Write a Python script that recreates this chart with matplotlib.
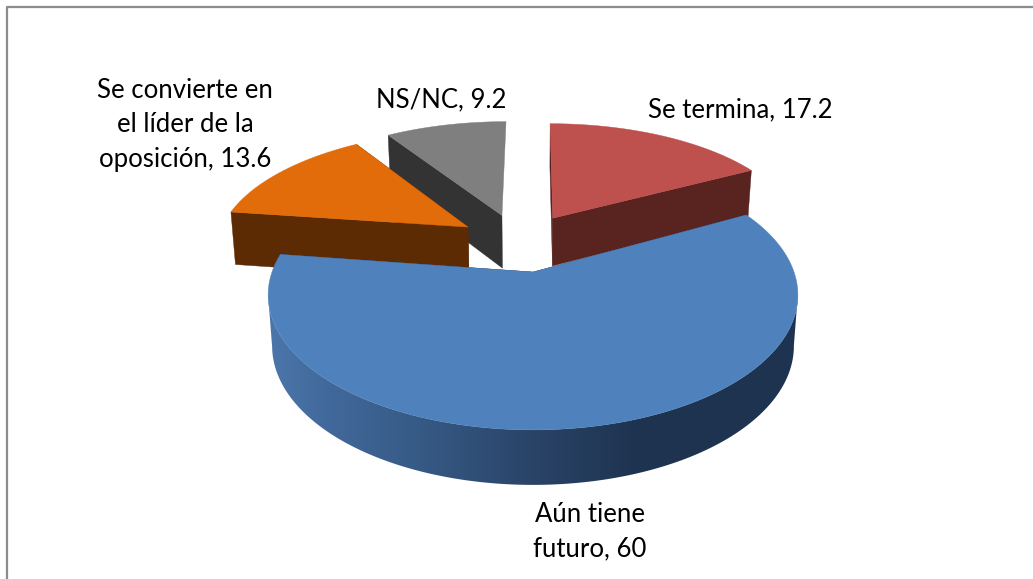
import numpy as np
import matplotlib
matplotlib.use('Agg')
import matplotlib.pyplot as plt
from matplotlib.patches import Polygon
from matplotlib.colors import LinearSegmentedColormap

# data, clockwise from 12 o'clock
categories = ['Se termina', 'Aún tiene\nfuturo', 'Se convierte en\nel líder de la\noposición', 'NS/NC']
values = [17.2, 60, 13.6, 9.2]
top_colors = ['#BE504D', '#4F81BD', '#E26B0A', '#7F7F7F']
side_colors = ['#592320', '#1E3350', '#5C2A03', '#333333']
label_xy = [(740, 110), (590, 532), (185, 125), (441, 100)]

# projection of the pie plane, fitted by eye (pixels)
cx, cy = 533.0, 272.0
A, B, k = 261.0, 131.0, 0.17
explode = 0.24
center = (-0.042, 0.236)
nudge_x = [0.0, 0.0, -0.02, -0.018]
squash_y = [0.96, 1.0, 0.96, 0.96]
depth = [50, 50, 55, 55]

def project(X, Y, d=None):
    s = 1.0 / (1.0 + k * Y)
    px = A * X * s
    py = -B * Y * s
    if d is not None:
        px = px * 0.985
        py = py + d - 5 * Y
    return cx + px, cy + py

# blue side shading follows screen x
grad_x = np.array([268, 330, 420, 530, 640, 798])
grad_c = ['#4C76AA', '#41689A', '#365A85', '#2A4468', '#1E3350', '#1E3350']
grad_cmap = LinearSegmentedColormap.from_list('side', list(zip((grad_x - 268) / 530.0, grad_c)))

fig = plt.figure(figsize=(10.33, 5.79), dpi=100)
ax = fig.add_axes([0, 0, 1, 1])

# chart frame
ax.plot([7, 7, 1033], [579, 7, 7], color='#8C8C8C', lw=1.6, solid_capstyle='butt')

fractions = np.array(values) / np.sum(values)
edges = np.concatenate([[0], np.cumsum(fractions)]) * 2 * np.pi

# back slices first, the big blue one last
for i in [0, 3, 2, 1]:
    t0, t1 = edges[i], edges[i + 1]
    mid = (t0 + t1) / 2
    tipX = center[0] + explode * np.sin(mid) + nudge_x[i]
    tipY = center[1] + explode * np.cos(mid)
    t = np.linspace(t0, t1, 300)
    X = tipX + np.sin(t)
    Y = tipY + np.cos(t) * squash_y[i]
    rim_top = np.column_stack(project(X, Y))
    rim_bot = np.column_stack(project(X, Y, depth[i]))
    tip_top = np.array(project(tipX, tipY))
    tip_bot = np.array(project(tipX, tipY, depth[i]))

    # the cut faces, the grey slice only shows its left one
    for j in ([0] if i == 3 else [0, -1]):
        face = [tip_top, rim_top[j], rim_bot[j], tip_bot]
        ax.add_patch(Polygon(face, closed=True, fc=side_colors[i], ec=side_colors[i], lw=0.3))

    # curved outer wall, only the big slice shows it
    if i == 1:
        n0, n1 = np.argmax(rim_top[:, 0]), np.argmin(rim_top[:, 0])
        front = np.vstack([rim_top[n0:n1 + 1], rim_bot[n0:n1 + 1][::-1]])
        wall = Polygon(front, closed=True, fc='none', ec='none')
        ax.add_patch(wall)
        im = ax.imshow(np.linspace(0, 1, 530).reshape(1, -1), extent=(268, 798, 579, 0),
                       cmap=grad_cmap, aspect='auto', zorder=1)
        im.set_clip_path(wall)

    top = np.vstack([tip_top, rim_top])
    ax.add_patch(Polygon(top, closed=True, fc=top_colors[i], ec=top_colors[i], lw=0.3, zorder=2))

for cat, val, (lx, ly) in zip(categories, values, label_xy):
    ax.text(lx, ly, f'{cat}, {val:g}', ha='center', va='center', ma='center',
            fontsize=18.5, family='Lato', color='black', linespacing=1.45, zorder=3)

ax.set_xlim(0, 1033)
ax.set_ylim(579, 0)
ax.axis('off')

fig.savefig('out.png', dpi=100)
